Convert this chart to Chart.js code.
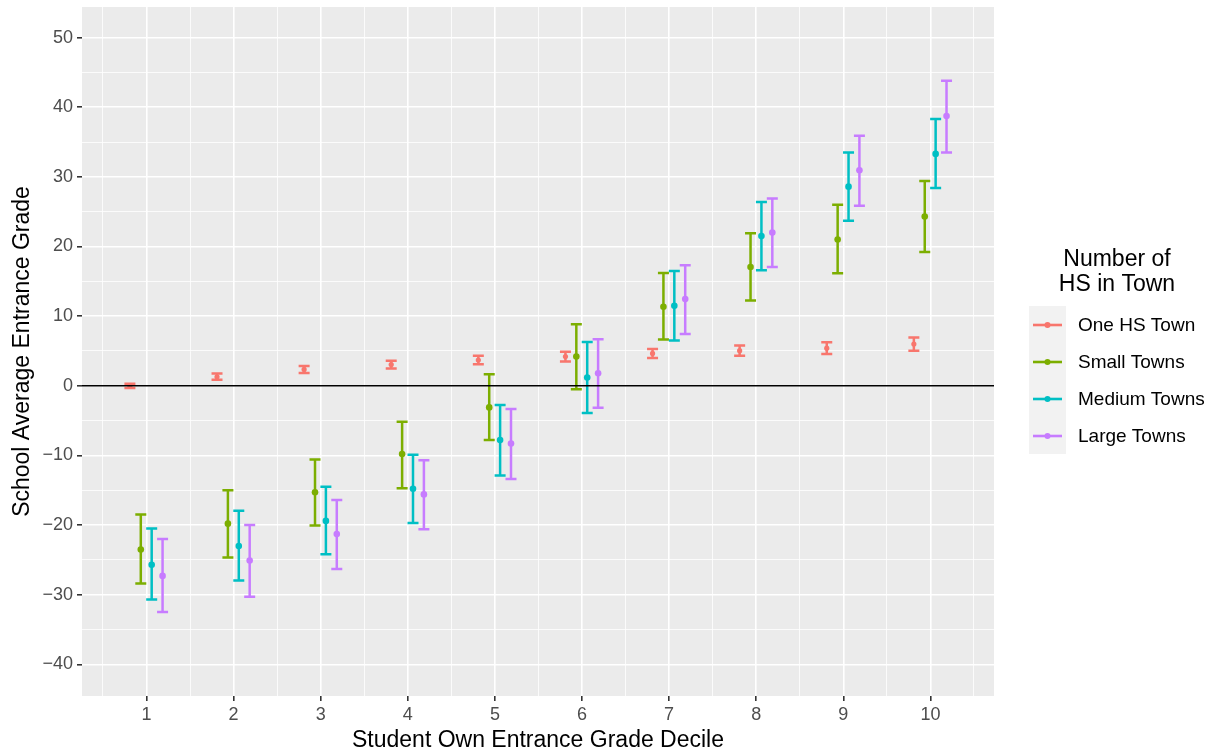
<!DOCTYPE html>
<html>
<head>
<meta charset="utf-8">
<script src="https://cdn.jsdelivr.net/npm/chart.js@4.4.0/dist/chart.umd.min.js"></script>
<style>
  html, body { margin: 0; padding: 0; background: #ffffff; }
  #wrap { width: 1212px; height: 751px; position: relative; }
</style>
</head>
<body>
<div id="wrap"><canvas id="chart" width="1212" height="751"></canvas></div>
<script>
// deciles and group labels
const deciles = [1, 2, 3, 4, 5, 6, 7, 8, 9, 10];
const groups = ["One HS Town", "Small Towns", "Medium Towns", "Large Towns"];
const groupColors = ["#F8766D", "#7CAE00", "#00BFC4", "#C77CFF"];
const dodge = [-0.19, -0.065, 0.06, 0.185];

// point estimates and CI bounds
const oneMean  = [0.0, 1.3, 2.35, 3.05, 3.7, 4.2, 4.65, 5.05, 5.4, 6.0];
const oneLow   = [-0.3, 0.85, 1.85, 2.5, 3.1, 3.5, 4.0, 4.3, 4.55, 5.05];
const oneHigh  = [0.3, 1.75, 2.85, 3.6, 4.3, 4.9, 5.3, 5.8, 6.25, 6.95];

const smallMean = [-23.5, -19.8, -15.3, -9.8, -3.1, 4.2, 11.35, 17.05, 21.0, 24.3];
const smallLow  = [-28.4, -24.65, -20.05, -14.7, -7.8, -0.5, 6.65, 12.25, 16.15, 19.2];
const smallHigh = [-18.5, -15.0, -10.6, -5.15, 1.65, 8.85, 16.2, 21.9, 26.0, 29.4];

const mediumMean = [-25.7, -23.0, -19.4, -14.8, -7.8, 1.2, 11.5, 21.5, 28.6, 33.3];
const mediumLow  = [-30.7, -27.95, -24.2, -19.7, -12.9, -3.9, 6.5, 16.6, 23.7, 28.4];
const mediumHigh = [-20.5, -17.95, -14.5, -9.9, -2.75, 6.3, 16.5, 26.4, 33.5, 38.3];

const largeMean = [-27.3, -25.1, -21.3, -15.6, -8.3, 1.8, 12.45, 22.0, 30.95, 38.75];
const largeLow  = [-32.5, -30.3, -26.3, -20.6, -13.4, -3.15, 7.45, 17.05, 25.85, 33.5];
const largeHigh = [-22.0, -20.0, -16.4, -10.7, -3.35, 6.7, 17.3, 26.9, 35.9, 43.8];

const xTickLabels = ["1", "2", "3", "4", "5", "6", "7", "8", "9", "10"];
const yTickLabels = [-40, -30, -20, -10, 0, 10, 20, 30, 40, 50];

const means = [oneMean, smallMean, mediumMean, largeMean];
const lows = [oneLow, smallLow, mediumLow, largeLow];
const highs = [oneHigh, smallHigh, mediumHigh, largeHigh];

const FONT = "'Liberation Sans', Arial, Helvetica, sans-serif";

const datasets = groups.map((g, i) => ({
  label: g,
  data: deciles.map((d, j) => ({ x: d + dodge[i], y: means[i][j], lo: lows[i][j], hi: highs[i][j] })),
  backgroundColor: groupColors[i],
  borderColor: groupColors[i],
  pointRadius: i === 0 ? 2.6 : 3.3,
  pointBorderWidth: 0,
  showLine: false,
}));

// grey panel like ggplot
const panelBg = {
  id: "panelBg",
  beforeDraw(chart) {
    const { ctx, chartArea: a } = chart;
    ctx.save();
    ctx.fillStyle = "#EBEBEB";
    ctx.fillRect(a.left, a.top, a.right - a.left, a.bottom - a.top);
    ctx.restore();
  },
};

// error bars drawn through the scales, then the zero line
const errorBars = {
  id: "errorBars",
  beforeDatasetsDraw(chart) {
    const { ctx } = chart;
    const xs = chart.scales.x, ys = chart.scales.y;
    ctx.save();
    chart.data.datasets.forEach((ds) => {
      ctx.strokeStyle = ds.borderColor;
      ctx.lineWidth = 2.5;
      ds.data.forEach((p) => {
        const px = xs.getPixelForValue(p.x);
        const yl = ys.getPixelForValue(p.lo);
        const yh = ys.getPixelForValue(p.hi);
        const w = 5.5;
        ctx.beginPath();
        ctx.moveTo(px, yl); ctx.lineTo(px, yh);
        ctx.moveTo(px - w, yl); ctx.lineTo(px + w, yl);
        ctx.moveTo(px - w, yh); ctx.lineTo(px + w, yh);
        ctx.stroke();
      });
    });
    ctx.restore();
  },
  afterDatasetsDraw(chart) {
    const { ctx, chartArea: a } = chart;
    const y0 = chart.scales.y.getPixelForValue(0);
    ctx.save();
    ctx.strokeStyle = "#000000";
    ctx.lineWidth = 1.6;
    ctx.beginPath();
    ctx.moveTo(a.left, y0); ctx.lineTo(a.right, y0);
    ctx.stroke();
    ctx.restore();
  },
};

// ggplot-style legend on the right
const sideLegend = {
  id: "sideLegend",
  afterDraw(chart) {
    const { ctx } = chart;
    ctx.save();
    ctx.fillStyle = "#000000";
    ctx.font = "23px " + FONT;
    ctx.textAlign = "center";
    ctx.textBaseline = "middle";
    ctx.fillText("Number of", 1117, 260);
    ctx.fillText("HS in Town", 1117, 285);
    ctx.fillStyle = "#F2F2F2";
    ctx.fillRect(1029, 306, 37, 148);
    ctx.font = "19px " + FONT;
    ctx.textAlign = "left";
    chart.data.datasets.forEach((ds, i) => {
      const cy = 325 + i * 37;
      ctx.strokeStyle = ds.borderColor;
      ctx.lineWidth = 2.6;
      ctx.beginPath();
      ctx.moveTo(1033, cy); ctx.lineTo(1062, cy);
      ctx.stroke();
      ctx.fillStyle = ds.borderColor;
      ctx.beginPath();
      ctx.arc(1047.5, cy, 3, 0, Math.PI * 2);
      ctx.fill();
      ctx.fillStyle = "#000000";
      ctx.fillText(ds.label, 1078, cy + 1);
    });
    ctx.restore();
  },
};

const isMajorX = (v) => xTickLabels.includes(String(v));
const isMajorY = (v) => yTickLabels.includes(v);

new Chart(document.getElementById("chart"), {
  type: "scatter",
  data: { datasets },
  plugins: [panelBg, errorBars, sideLegend],
  options: {
    responsive: false,
    animation: false,
    layout: { padding: { left: 0, right: 218, top: 7, bottom: 0 } },
    plugins: { legend: { display: false }, tooltip: { enabled: false } },
    scales: {
      x: {
        type: "linear",
        min: 0.26,
        max: 10.73,
        afterFit(s) { s.height = 55; s.paddingLeft = 0; s.paddingRight = 0; },
        border: { display: false },
        grid: {
          color: "#FFFFFF",
          lineWidth: (c) => (c.tick && isMajorX(c.tick.value) ? 1.6 : 0.8),
          tickColor: (c) => (c.tick && isMajorX(c.tick.value) ? "#333333" : "rgba(0,0,0,0)"),
          tickLength: 5,
          tickWidth: 1.6,
        },
        ticks: {
          stepSize: 0.5,
          includeBounds: false,
          autoSkip: false,
          maxRotation: 0,
          padding: 3,
          color: "#4D4D4D",
          font: { family: FONT, size: 18 },
          callback: (v) => (isMajorX(v) ? String(v) : ""),
        },
        title: {
          display: true,
          text: "Student Own Entrance Grade Decile",
          color: "#000000",
          font: { family: FONT, size: 23 },
          padding: { top: 0, bottom: -3 },
        },
      },
      y: {
        min: -44.55,
        max: 54.4,
        afterFit(s) { s.width = 82; s.paddingTop = 0; s.paddingBottom = 0; },
        border: { display: false },
        grid: {
          color: "#FFFFFF",
          lineWidth: (c) => (c.tick && isMajorY(c.tick.value) ? 1.6 : 0.8),
          tickColor: (c) => (c.tick && isMajorY(c.tick.value) ? "#333333" : "rgba(0,0,0,0)"),
          tickLength: 5,
          tickWidth: 1.6,
        },
        ticks: {
          stepSize: 5,
          includeBounds: false,
          autoSkip: false,
          padding: 4,
          color: "#4D4D4D",
          font: { family: FONT, size: 18 },
          callback: (v) => (isMajorY(v) ? String(v).replace("-", "\u2212") : ""),
        },
        title: {
          display: true,
          text: "School Average Entrance Grade",
          color: "#000000",
          font: { family: FONT, size: 23 },
          padding: { top: 9, bottom: 0 },
        },
      },
    },
  },
});
</script>
</body>
</html>
